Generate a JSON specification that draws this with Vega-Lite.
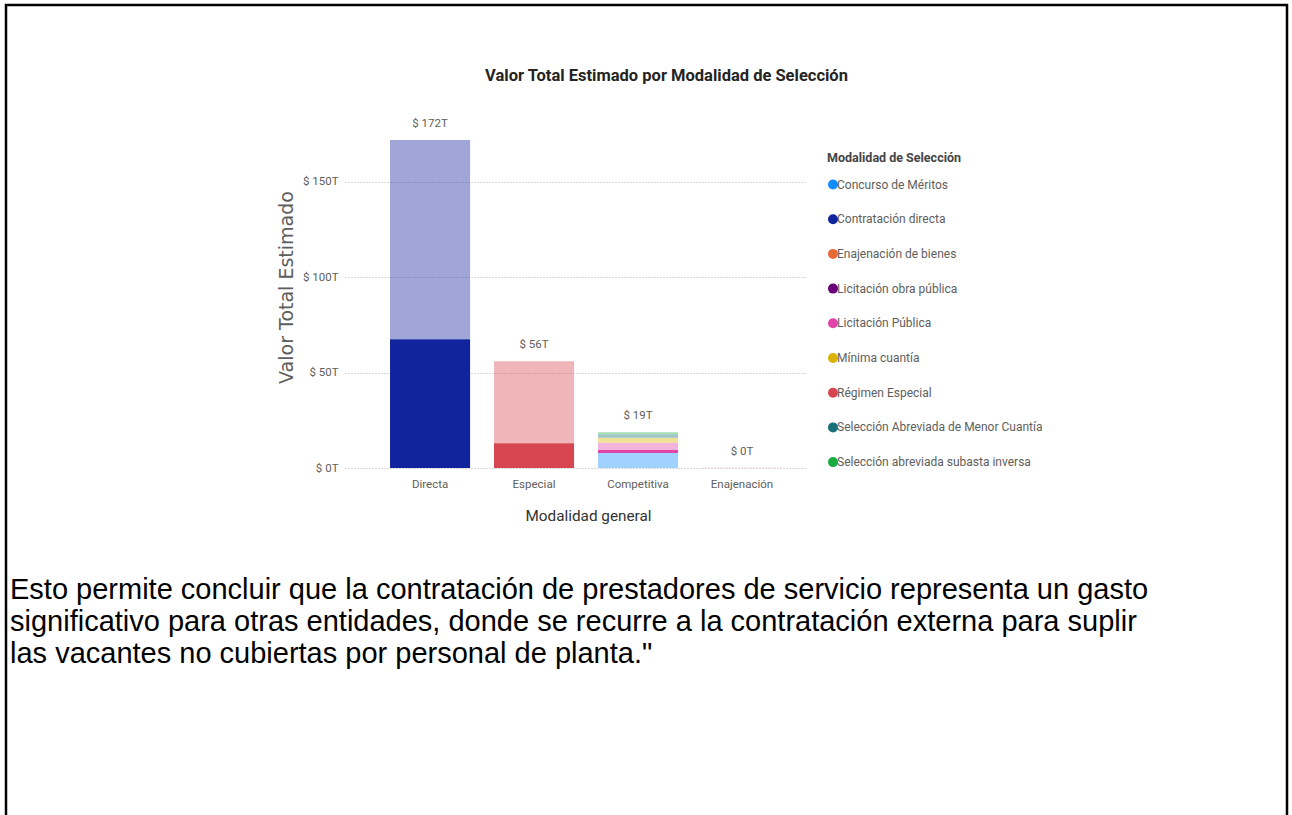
{
  "$schema": "https://vega.github.io/schema/vega-lite/v6.json",
  "width": 1281,
  "height": 815,
  "autosize": {"type": "none"},
  "padding": {"left": 6, "top": 5, "right": 5, "bottom": 0},
  "background": "white",
  "config": {
    "view": {"stroke": "#000000", "strokeWidth": 2.5, "fill": "white"}
  },
  "title": {
    "text": "Valor Total Estimado por Modalidad de Selección",
    "anchor": "middle",
    "dx": 20,
    "offset": -79,
    "font": "Roboto",
    "fontSize": 16.5,
    "fontWeight": "bold",
    "color": "#252423"
  },
  "datasets": {
    "barras": [
      {"modalidad": "Directa", "serie": "Contratación directa", "orden": 1, "estado": "Resaltado", "valor": 67.5},
      {"modalidad": "Directa", "serie": "Contratación directa", "orden": 2, "estado": "Resto", "valor": 104.5},
      {"modalidad": "Especial", "serie": "Régimen Especial", "orden": 1, "estado": "Resaltado", "valor": 13},
      {"modalidad": "Especial", "serie": "Régimen Especial", "orden": 2, "estado": "Resto", "valor": 43},
      {"modalidad": "Competitiva", "serie": "Concurso de Méritos", "orden": 1, "estado": "Resto", "valor": 7.9},
      {"modalidad": "Competitiva", "serie": "Licitación Pública", "orden": 2, "estado": "Resaltado", "valor": 1.6},
      {"modalidad": "Competitiva", "serie": "Licitación Pública", "orden": 3, "estado": "Resto", "valor": 3.7},
      {"modalidad": "Competitiva", "serie": "Mínima cuantía", "orden": 4, "estado": "Resto", "valor": 2.6},
      {"modalidad": "Competitiva", "serie": "Selección Abreviada de Menor Cuantía", "orden": 5, "estado": "Resto", "valor": 1.9},
      {"modalidad": "Competitiva", "serie": "Selección abreviada subasta inversa", "orden": 6, "estado": "Resto", "valor": 1.0},
      {"modalidad": "Enajenación", "serie": "Enajenación de bienes", "orden": 1, "estado": "Resto", "valor": 0.1}
    ],
    "parrafo": [
      {"linea": 1, "texto": "Esto permite concluir que la contratación de prestadores de servicio representa un gasto"},
      {"linea": 2, "texto": "significativo para otras entidades, donde se recurre a la contratación externa para suplir"},
      {"linea": 3, "texto": "las vacantes no cubiertas por personal de planta.\""}
    ]
  },
  "layer": [
    {
      "data": {"name": "barras"},
      "layer": [
        {
          "mark": {"type": "bar"},
          "encoding": {
            "x": {
              "field": "modalidad",
              "type": "nominal",
              "sort": ["Directa", "Especial", "Competitiva", "Enajenación"],
              "scale": {"range": [339, 799], "paddingInner": 0.23, "paddingOuter": 0.327, "align": 0.662},
              "axis": {
                "title": "Modalidad general",
                "orient": "bottom",
                "offset": -352,
                "domain": false,
                "ticks": false,
                "grid": false,
                "labelAngle": 0,
                "labelPadding": 10,
                "labelFont": "Roboto",
                "labelFontSize": 11.5,
                "labelColor": "#605E5C",
                "titleFont": "Roboto",
                "titleFontSize": 15.3,
                "titleFontWeight": "normal",
                "titleColor": "#333333",
                "titleX": 582,
                "titleY": 47,
                "titleBaseline": "middle",
                "titleAlign": "center"
              }
            },
            "y": {
              "field": "valor",
              "type": "quantitative",
              "stack": "zero",
              "scale": {"domain": [0, 180], "range": [463, 119.7], "nice": false},
              "axis": {
                "title": "Valor Total Estimado",
                "values": [0, 50, 100, 150],
                "labelExpr": "'$ ' + datum.value + 'T'",
                "offset": -339,
                "domain": false,
                "ticks": false,
                "labelPadding": 7,
                "labelFont": "Roboto",
                "labelFontSize": 11.5,
                "labelColor": "#605E5C",
                "grid": true,
                "gridColor": "#B5B3B1",
                "gridDash": [1, 2],
                "gridWidth": 1,
                "titleFont": "DejaVu Sans",
                "titleFontSize": 19,
                "titleFontWeight": "normal",
                "titleColor": "#605E5C",
                "titleX": -59,
                "titleY": 282,
                "titleAngle": -90,
                "titleBaseline": "middle",
                "titleAlign": "center"
              }
            },
            "color": {
              "field": "serie",
              "type": "nominal",
              "scale": {
                "domain": ["Concurso de Méritos", "Contratación directa", "Enajenación de bienes", "Licitación obra pública", "Licitación Pública", "Mínima cuantía", "Régimen Especial", "Selección Abreviada de Menor Cuantía", "Selección abreviada subasta inversa"],
                "range": ["#118DFF", "#12239E", "#E66C37", "#6B007B", "#E044A7", "#D9B300", "#D64550", "#197278", "#1AAB40"]
              },
              "legend": {
                "title": "Modalidad de Selección",
                "orient": "none",
                "legendX": 821,
                "legendY": 147,
                "padding": 0,
                "symbolType": "circle",
                "symbolSize": 100,
                "symbolStrokeWidth": 0,
                "titleFont": "Roboto",
                "titleFontSize": 12.5,
                "titleFontWeight": "bold",
                "titleColor": "#444444",
                "titlePadding": 14,
                "labelFont": "Roboto",
                "labelFontSize": 12,
                "labelColor": "#605E5C",
                "labelOffset": -2,
                "labelLimit": 400,
                "rowPadding": 22.7
              }
            },
            "opacity": {
              "field": "estado",
              "type": "nominal",
              "scale": {"domain": ["Resaltado", "Resto"], "range": [1, 0.4]},
              "legend": null
            },
            "order": {"field": "orden", "type": "quantitative", "sort": "ascending"}
          }
        },
        {
          "transform": [
            {"aggregate": [{"op": "sum", "field": "valor", "as": "total"}], "groupby": ["modalidad"]},
            {"calculate": "'$ ' + format(datum.total, '.0f') + 'T'", "as": "etiqueta"}
          ],
          "mark": {
            "type": "text",
            "baseline": "middle",
            "dy": -16,
            "font": "Roboto",
            "fontSize": 11.5,
            "color": "#605E5C"
          },
          "encoding": {
            "x": {"field": "modalidad", "type": "nominal", "sort": ["Directa", "Especial", "Competitiva", "Enajenación"]},
            "y": {"field": "total", "type": "quantitative"},
            "text": {"field": "etiqueta", "type": "nominal"}
          }
        }
      ]
    },
    {
      "data": {"name": "parrafo"},
      "mark": {
        "type": "text",
        "align": "left",
        "baseline": "alphabetic",
        "font": "Liberation Sans, Arial, sans-serif",
        "fontSize": 29,
        "color": "#000000"
      },
      "encoding": {
        "x": {"value": 4},
        "y": {"field": "linea", "type": "quantitative", "scale": {"domain": [1, 3], "range": [594, 658]}, "axis": null},
        "text": {"field": "texto", "type": "nominal"}
      }
    }
  ],
  "resolve": {"scale": {"y": "independent"}}
}
